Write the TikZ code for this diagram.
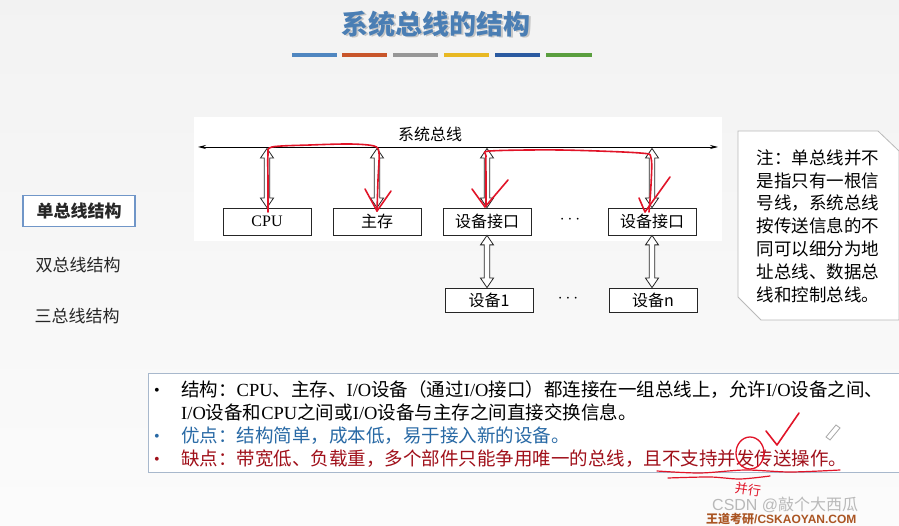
\documentclass[tikz,border=0pt]{standalone}
\usepackage{fontspec}
\setmainfont{Liberation Serif}
\newfontfamily\cjk{Noto Sans CJK SC}
\newfontfamily\lsans{Liberation Sans}
\usetikzlibrary{arrows.meta,calc}
\definecolor{titleblue}{RGB}{74,126,180}
\definecolor{barA}{RGB}{79,134,192}
\definecolor{barB}{RGB}{200,85,42}
\definecolor{barC}{RGB}{150,150,150}
\definecolor{barD}{RGB}{232,184,34}
\definecolor{barE}{RGB}{42,90,160}
\definecolor{barF}{RGB}{90,158,62}
\definecolor{menublue}{RGB}{112,150,200}
\definecolor{okblue}{RGB}{40,105,165}
\definecolor{badred}{RGB}{160,16,26}
\definecolor{penred}{RGB}{225,20,40}
\definecolor{frame}{RGB}{168,184,204}
\definecolor{wmbrown}{RGB}{170,85,35}
\newcommand{\zh}[1]{{\cjk #1}}
% hollow double-headed vertical arrow from lower point #1 to upper point #2
\newcommand{\vhollow}[2]{\draw[hollow] let \p1=(#1), \p2=(#2) in
  (\x1,\y1) -- ({\x1+6.5pt},{\y1+9.5pt}) -- ({\x1+2.8pt},{\y1+9.5pt}) -- ({\x1+2.8pt},{\y2-9.5pt})
  -- ({\x1+6.5pt},{\y2-9.5pt}) -- (\x1,\y2) -- ({\x1-6.5pt},{\y2-9.5pt}) -- ({\x1-2.8pt},{\y2-9.5pt})
  -- ({\x1-2.8pt},{\y1+9.5pt}) -- ({\x1-6.5pt},{\y1+9.5pt}) -- cycle;}
\begin{document}
\begin{tikzpicture}[x=1pt,y=-1pt,
  box/.style={draw=black!85, line width=0.8pt, fill=white, minimum width=88pt, minimum height=27pt, inner sep=0pt, font=\cjk\fontsize{16}{16}\selectfont},
  lowbox/.style={box, minimum height=24pt},
  hollow/.style={draw=black!85, line width=0.8pt, fill=white, line join=miter},
  pen/.style={draw=penred, line width=1.6pt, line cap=round, line join=round},
  bar/.style={line width=4.5pt},
  menu/.style={font=\cjk\fontsize{17}{17}\selectfont, text=black!85},
  txt/.style={anchor=base west, inner sep=0pt, font=\fontsize{18.5}{18.5}\selectfont},
  bul/.style={anchor=base, inner sep=0pt, font=\fontsize{16}{16}\selectfont},
  dotsn/.style={inner sep=0pt, font=\fontsize{18}{18}\selectfont},
]
\useasboundingbox (0,0) rectangle (899,526);
\shade[top color=gray!10, bottom color=gray!3] (0,0) rectangle (899,526);

% title
\node[font=\cjk\bfseries\fontsize{27}{27}\selectfont, text=gray!45] (titleshadow) at (437.5,25.5) {系统总线的结构};
\node[font=\cjk\bfseries\fontsize{27}{27}\selectfont, text=titleblue] (title) at (436,24) {系统总线的结构};
\draw[bar, barA] (292,55) -- (337,55);
\draw[bar, barB] (342,55) -- (387,55);
\draw[bar, barC] (393,55) -- (438,55);
\draw[bar, barD] (444,55) -- (489,55);
\draw[bar, barE] (495,55) -- (540,55);
\draw[bar, barF] (546,55) -- (592,55);

% left menu
\node[menu, draw=menublue, line width=1.2pt, fill=white, minimum width=112pt, minimum height=31pt, font=\cjk\bfseries\fontsize{17}{17}\selectfont] (m1) at (79,211) {单总线结构};
\node[menu] (m2) at (78,265) {双总线结构};
\node[menu] (m3) at (77,316) {三总线结构};

% diagram panel
\fill[white] (194,117) rectangle (722,241);
\coordinate (busL) at (198,147);
\coordinate (busR) at (718,147);
\draw[line width=0.8pt, {Stealth[length=8pt,width=4pt]}-{Stealth[length=8pt,width=4pt]}] (busL) -- (busR);
\node[font=\cjk\fontsize{16}{16}\selectfont] (buslabel) at (430,134) {系统总线};

\node[box, font=\fontsize{16}{16}\selectfont] (cpu) at (267,221.5) {CPU};
\node[box] (mem) at (377,221.5) {主存};
\node[box] (if1) at (487,221.5) {设备接口};
\node[box] (if2) at (652,221.5) {设备接口};
\node[dotsn] (dots1) at (570,220) {$\cdots$};
\node[lowbox] (dev1) at (489,300) {设备1};
\node[lowbox] (devn) at (653,300) {设备n};
\node[dotsn] (dots2) at (568,299) {$\cdots$};

\foreach \nm in {cpu,mem,if1,if2}
  \vhollow{\nm.north}{$(\nm.north |- busL)+(0,1.5)$};
\vhollow{if1.south |- dev1.north}{if1.south}
\vhollow{if2.south |- devn.north}{if2.south}

% note box
\draw[draw=gray!55, line width=0.8pt, fill=white] (738,131) -- (878,131) -- (899,151) -- (899,320) -- (761,320) -- (738,297) -- cycle;
\node[align=left, font=\cjk\fontsize{17.5}{22.8}\selectfont, inner sep=0pt] (note) at (818,226) {注：单总线并不\\是指只有一根信\\号线，系统总线\\按传送信息的不\\同可以细分为地\\址总线、数据总\\线和控制总线。};

% bottom text box
\fill[white] (148,373) rectangle (899,472);
\draw[frame, line width=1pt] (899,373) -- (148,373) -- (148,472) -- (899,472);
\node[bul] (b1) at (157,395) {•};
\node[txt] (t1) at (181,396) {\zh{结构：}CPU\zh{、主存、}I/O\zh{设备（通过}I/O\zh{接口）都连接在一组总线上，允许}I/O\zh{设备之间、}};
\node[txt] (t2) at (181,419) {I/O\zh{设备和}CPU\zh{之间或}I/O\zh{设备与主存之间直接交换信息。}};
\node[bul, text=okblue] (b3) at (157,441) {•};
\node[txt, text=okblue] (t3) at (181,442) {\zh{优点：结构简单，成本低，易于接入新的设备。}};
\node[bul, text=badred] (b4) at (157,464) {•};
\node[txt, text=badred] (t4) at (181,465) {\zh{缺点：带宽低、负载重，多个部件只能争用唯一的总线，且不支持并发传送操作。}};

% red hand annotations
\draw[pen] plot[smooth, tension=0.5] coordinates {(268,212) (268,180) (268,155) (272,147) (310,145) (350,144) (374,146) (379,153) (378,180) (377,211)};
\draw[pen] (365,189) -- (377,211) -- (391,191);
\draw[pen] plot[smooth, tension=0.5] coordinates {(486,206) (486,175) (486,156) (490,151) (560,150) (640,153) (651,158) (651,185) (649,212)};
\draw[pen] (472,189) -- (485,207) -- (508,180);
\draw[pen] (639,198) -- (645,212) -- (670,177);
\draw[pen, line width=1.3pt] (750,453) ellipse (14pt and 16pt);
\draw[pen] (766,431) -- (777,445) -- (799,413);
\draw[pen, line width=1.2pt] plot[smooth] coordinates {(657,471) (700,473) (745,470) (790,472) (840,470)};
\draw[pen, line width=1.2pt] plot[smooth] coordinates {(668,478) (710,477) (740,479) (770,476)};
\node[text=penred, rotate=-8, inner sep=0pt, font=\cjk\fontsize{13}{13}\selectfont] (hand) at (748,489.5) {并行};
\draw[gray!70, line width=0.8pt] (826,437) -- (836,425) -- (840,428) -- (830,440) -- cycle;

% watermarks
\node[anchor=west, inner sep=0pt, text=gray!55, font=\lsans\fontsize{16}{16}\selectfont] (wm) at (712,505) {CSDN @\zh{敲个大西瓜}};
\node[anchor=west, inner sep=0pt, text=wmbrown, font=\lsans\bfseries\fontsize{12}{12}\selectfont] (wm2) at (706,518.5) {\zh{王道考研}/CSKAOYAN.COM};
\end{tikzpicture}
\end{document}
